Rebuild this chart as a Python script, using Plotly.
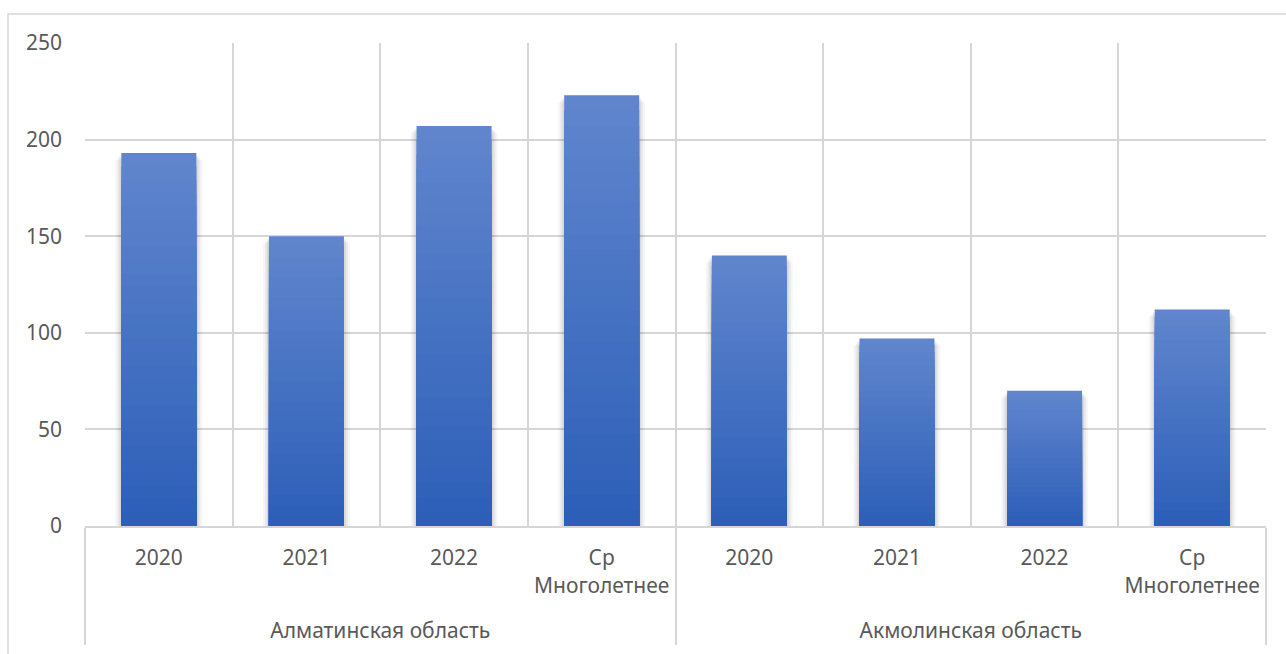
import plotly.graph_objects as go

# Data
regions = ["Алматинская область", "Акмолинская область"]
periods = ["2020", "2021", "2022", "Ср<br>Многолетнее"]
almaty = [193, 150, 207, 223]
akmola = [140, 97, 70, 112]

# a blank trailing line under each period label leaves room above the region row
PAD = "<br>\u00a0"
groups = [r for r in regions for _ in periods]
subs = [p + PAD for p in periods] * len(regions)
values = almaty + akmola
xcat = [groups, subs]

# Style
TOP = (96, 133, 205)
BOTTOM = (45, 95, 184)
N_STEPS = 28
BAR_W = 0.508
PX = 1 / 147.5          # one pixel in category units (approx.)
UNIT_PX = 483 / 250     # pixels per value unit (approx.)
FONT = "Noto Sans"
TXT = "#595959"
GRID = "#d6d6d6"

fig = go.Figure()

# soft shadow behind each bar
for k, a in [(6, 0.035), (4, 0.05), (2, 0.07)]:
    fig.add_trace(go.Bar(
        x=xcat, y=[v - (k + 1) / UNIT_PX for v in values],
        width=BAR_W + 2 * k * PX,
        marker=dict(color=f"rgba(0,0,0,{a})", line=dict(width=0)),
        hoverinfo="skip", showlegend=False,
    ))

# main bars, drawn as nested layers so each bar shades from light (top) to dark (bottom)
for i in range(N_STEPS):
    t = i / (N_STEPS - 1)
    c = tuple(round(TOP[j] + (BOTTOM[j] - TOP[j]) * t) for j in range(3))
    frac = 1 - i / N_STEPS
    fig.add_trace(go.Bar(
        x=xcat, y=[v * frac for v in values],
        width=BAR_W,
        marker=dict(color=f"rgb{c}", line=dict(width=0)),
        hoverinfo="skip" if i else None,
        showlegend=False,
    ))

fig.update_layout(
    width=1286, height=654,
    margin=dict(l=85, r=20, t=43, b=128),
    barmode="overlay",
    paper_bgcolor="white", plot_bgcolor="white",
    font=dict(family=FONT, size=21, color=TXT),
    showlegend=False,
)

fig.update_xaxes(
    type="multicategory",
    tickson="boundaries",
    showgrid=True, gridcolor=GRID, gridwidth=1.5,
    showline=True, linecolor=GRID, linewidth=2,
    ticks="", showdividers=True, dividercolor=GRID, dividerwidth=1.5,
    ticklabelstandoff=12,
    tickfont=dict(family=FONT, size=21, color=TXT),
)
fig.update_yaxes(
    range=[0, 250], dtick=50,
    showgrid=True, gridcolor=GRID, gridwidth=1.5,
    zeroline=False, showline=False, ticks="",
    ticklabelstandoff=22,
    tickfont=dict(family=FONT, size=21, color=TXT),
)

# chart frame
fig.add_shape(
    type="rect", xref="paper", yref="paper",
    x0=(8 - 85) / 1181, x1=1.2, y0=-0.5, y1=(526 - 14) / 483,
    line=dict(color=GRID, width=1.5), fillcolor="rgba(0,0,0,0)",
    layer="below",
)

fig.write_html("out.html")
